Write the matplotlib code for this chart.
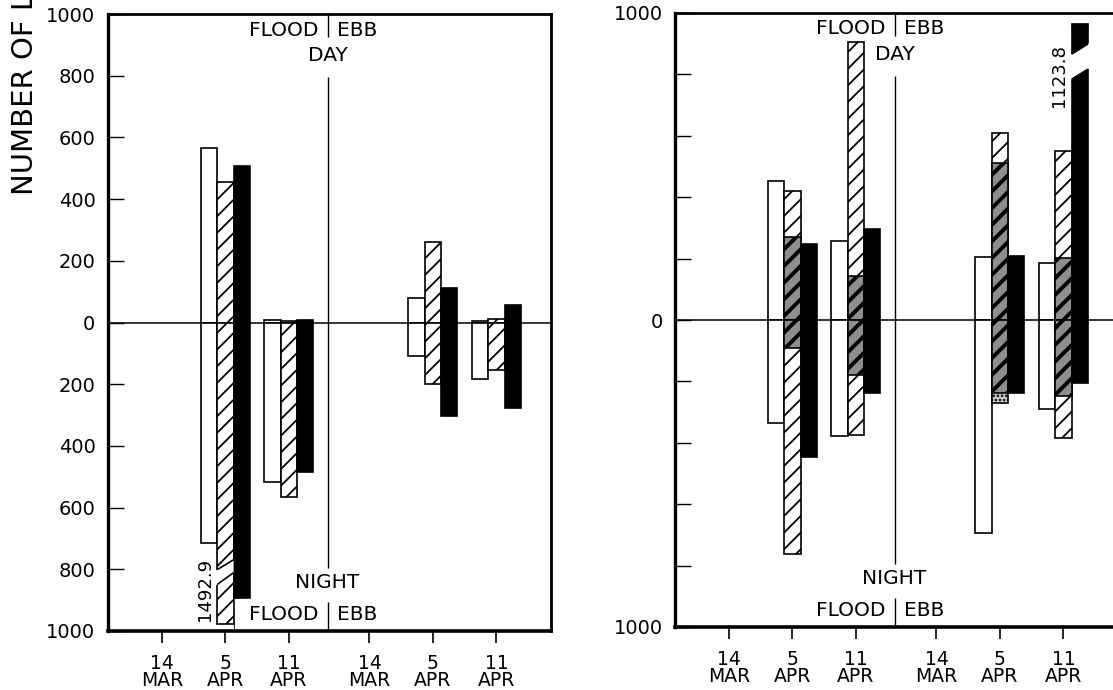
import numpy as np
import matplotlib.pyplot as plt
from matplotlib.patches import Polygon, Rectangle

plt.rcParams['font.family'] = ['DejaVu Sans']
plt.rcParams['hatch.linewidth'] = 1.3

nan = np.nan

# sampling dates: flood tide first, then ebb
dates = ['14\nMAR', '5\nAPR', '11\nAPR', '14\nMAR', '5\nAPR', '11\nAPR']

# left panel, day counts plotted up, night counts plotted down
left_day_open = [nan, 565, 7, nan, 78, 5]
left_day_hatch = [nan, 457, 6, nan, 261, 10]
left_day_solid = [nan, 506, 8, nan, 111, 58]
left_night_open = [nan, 716, 516, nan, 110, 184]
left_night_hatch = [nan, 1492.9, 565, nan, 200, 155]
left_night_solid = [nan, 894, 484, nan, 303, 277]

# right panel, hatched bars have a dark lower part
right_day_open = [nan, 454, 258, nan, 206, 186]
right_day_hatch = [nan, 421, 905, nan, 608, 552]
right_day_dark = [nan, 271, 144, nan, 510, 203]
right_day_solid = [nan, 248, 298, nan, 209, 1123.8]
right_night_open = [nan, 335, 378, nan, 694, 290]
right_night_hatch = [nan, 762, 375, nan, nan, 384]
right_night_dark = [nan, 91, 179, nan, 237, 248]
right_night_dots = [nan, nan, nan, nan, 270, nan]
right_night_solid = [nan, 446, 238, nan, 237, 205]

xpos = np.array([0, 1, 2, 3.27, 4.27, 5.27])
w = 0.257
div = 2.61
LW = 1.2


def bars(ax, offset, vals, sign, **kw):
    v = np.asarray(vals, float)
    ok = ~np.isnan(v)
    return ax.bar(xpos[ok] + offset, sign * v[ok], width=w, zorder=2, **kw)


def open_bars(ax, vals, sign):
    bars(ax, -w, vals, sign, facecolor='white', edgecolor='k', linewidth=LW)


def solid_bars(ax, vals, sign):
    bars(ax, w, vals, sign, facecolor='k', edgecolor='k', linewidth=LW)


def hatch_bars(ax, vals, sign):
    bars(ax, 0, vals, sign, facecolor='white', edgecolor='k', hatch='//', linewidth=LW)


def dark_bars(ax, vals, sign):
    # heavy black hatching over a grey fill
    with plt.rc_context({'hatch.linewidth': 2.8}):
        bars(ax, 0, vals, sign, facecolor='#8e8e8e', edgecolor='k', hatch='//', linewidth=LW)


def dot_bars(ax, vals, sign):
    bars(ax, 0, vals, sign, facecolor='#d0d0d0', edgecolor='k', hatch='....', linewidth=LW)


def break_bar(ax, xc, lo, hi, pad_l, pad_r):
    # white cut across a bar between two slanted lines
    xl, xr = xc - w / 2, xc + w / 2

    def at(line, x):
        return line[0] + (line[1] - line[0]) * (x - xl) / (xr - xl)

    xa, xb = xl - pad_l, xr + pad_r
    ax.add_patch(Polygon([(xa, at(lo, xa)), (xb, at(lo, xb)),
                          (xb, at(hi, xb)), (xa, at(hi, xa))],
                         closed=True, facecolor='white', edgecolor='none', zorder=2.3))
    for line in (lo, hi):
        ax.plot([xl, xr], line, color='k', lw=LW, zorder=2.4, solid_capstyle='butt')


def frame(ax):
    ax.set_xlim(-0.85, 6.13)
    ax.set_ylim(-1000, 1000)
    ax.axhline(0, color='k', lw=1.1, zorder=1)
    for s in ax.spines.values():
        s.set_linewidth(2.0)
    ax.spines['bottom'].set_linewidth(2.6)
    ax.spines['left'].set_linewidth(2.4)
    ax.set_xticks(xpos)
    ax.set_xticklabels(dates)
    for lbl in ax.get_xticklabels():
        lbl.set_linespacing(0.85)
    ax.tick_params(axis='x', direction='out', length=8.5, width=1.2, pad=8, labelsize=13.5)
    ax.tick_params(axis='y', direction='in', length=11.5, width=1.0, pad=9, labelsize=14)
    ax.set_yticks(np.arange(-1000, 1001, 200))

    # flood / ebb divider with day and night headings
    ax.vlines(div, 925, 1000, color='k', lw=1.0, zorder=1)
    ax.vlines(div, -795, 795, color='k', lw=1.0, zorder=1)
    ax.vlines(div, -1000, -905, color='k', lw=1.0, zorder=1)
    tk = dict(fontsize=14.5, va='center', zorder=4)
    ax.text(div - 0.15, 948, 'FLOOD', ha='right', **tk)
    ax.text(div + 0.15, 948, 'EBB', ha='left', **tk)
    ax.text(div, 864, 'DAY', ha='center', **tk)
    ax.text(div, -842, 'NIGHT', ha='center', **tk)
    ax.text(div - 0.15, -945, 'FLOOD', ha='right', **tk)
    ax.text(div + 0.15, -945, 'EBB', ha='left', **tk)


fig = plt.figure(figsize=(11.13, 6.9), dpi=100)
axL = fig.add_axes([108 / 1113, 59 / 690, 443 / 1113, 617 / 690])
axR = fig.add_axes([675 / 1113, 63 / 690, 443 / 1113, 614 / 690])

# left panel
frame(axL)
axL.set_yticklabels([str(abs(v)) for v in range(-1000, 1001, 200)])
for vals, sign in ((left_day_open, 1), (left_night_open, -1)):
    open_bars(axL, vals, sign)
for vals, sign in ((left_day_hatch, 1), (left_night_hatch, -1)):
    hatch_bars(axL, vals, sign)
for vals, sign in ((left_day_solid, 1), (left_night_solid, -1)):
    solid_bars(axL, vals, sign)

# off-scale night value at 5 APR flood
xc = xpos[1]
break_bar(axL, xc, (-801, -769), (-849, -811), 0.03, 0)
axL.add_patch(Rectangle((xc - w / 2 - 0.03, -1000), w + 0.03, 22,
                        facecolor='white', edgecolor='none', zorder=2.3))
axL.plot([xc - w / 2, xc + w / 2], [-978, -978], color='k', lw=LW, zorder=2.4)
axL.text(xc - 0.32, -865, f'{left_night_hatch[1]:.1f}', rotation=90,
         ha='center', va='center', fontsize=13, zorder=4)

# right panel
frame(axR)
axR.set_yticklabels(['1000' if abs(v) == 1000 else ('0' if v == 0 else '')
                     for v in range(-1000, 1001, 200)])
for vals, sign in ((right_day_open, 1), (right_night_open, -1)):
    open_bars(axR, vals, sign)
for vals, sign in ((right_day_hatch, 1), (right_night_hatch, -1)):
    hatch_bars(axR, vals, sign)
dot_bars(axR, right_night_dots, -1)
for vals, sign in ((right_day_dark, 1), (right_night_dark, -1)):
    dark_bars(axR, vals, sign)
for vals, sign in ((right_day_solid, 1), (right_night_solid, -1)):
    solid_bars(axR, vals, sign)

# off-scale day value at 11 APR ebb
xc = xpos[5] + w
break_bar(axR, xc, (784, 817), (866, 899), 0.03, 0.03)
axR.add_patch(Rectangle((xc - w / 2 - 0.04, 964), w + 0.08, 36,
                        facecolor='white', edgecolor='none', zorder=2.3))
axR.plot([xc - w / 2, xc + w / 2], [964, 964], color='k', lw=LW, zorder=2.4)
axR.text(xpos[5] - 0.07, 797, f'{right_day_solid[5]:.1f}', rotation=90,
         ha='center', va='center', fontsize=13, zorder=4)

fig.text(25 / 1113, 1 - 195 / 690, 'NUMBER OF LARVAE', rotation=90,
         ha='center', va='bottom', fontsize=21)

fig.savefig('out.png', dpi=100)
